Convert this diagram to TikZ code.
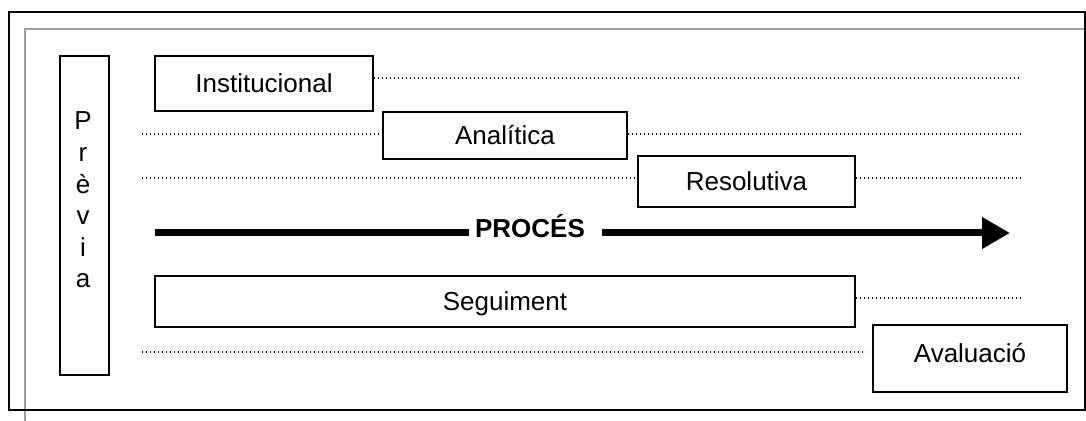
\documentclass[tikz,border=0pt]{standalone}
\usepackage{fontspec}
\setmainfont{Liberation Sans}
\usetikzlibrary{arrows.meta}
\begin{document}
\begin{tikzpicture}[x=0.5pt,y=-0.5pt,
  txt/.style={font=\fontsize{13}{15}\selectfont},
  box/.style={draw, line width=0.9pt, inner sep=0pt, txt, text height=9.3pt, text depth=0pt},
  guide/.style={line width=0.7pt, dash pattern=on 0.7pt off 1.3pt},
  procline/.style={line width=3.5pt},
  frame/.style={line width=1pt},
  inner frame/.style={line width=1pt, draw=black!38}]
\useasboundingbox (0,0) rectangle (1086,421);

% page frames
\draw[inner frame] (25,421) -- (25,29) -- (1085,29);
\draw[frame] (9,12) rectangle (1085,410);

% stage boxes
\node[box, minimum width=24.5pt, minimum height=159.5pt] (previa) at (84.5,215.5) {};
\foreach \ch [count=\i from 0] in {P,r,è,v,i,a}
  \node[txt, inner sep=0pt, anchor=base] (previa-\i) at (83,130+31.6*\i) {\ch};

\node[box, minimum width=109pt,   minimum height=27.5pt] (inst)  at (264,83.5)   {Institucional};
\node[box, minimum width=122pt,   minimum height=23.5pt] (anal)  at (505,135.5)  {Analítica};
\node[box, minimum width=108.5pt, minimum height=25.5pt] (resol) at (746.5,181.5) {Resolutiva};
\node[box, minimum width=350pt,   minimum height=25.5pt] (seg)   at (505,301.5)  {Seguiment};
\node[box, minimum width=97pt,    minimum height=33.5pt, text depth=5pt] (aval) at (970,358.5) {Avaluació};

% dotted guide lines
\coordinate (r1) at (1021,78);
\coordinate (l2) at (142,134);  \coordinate (r2) at (1021,134);
\coordinate (l3) at (142,178);  \coordinate (r3) at (1021,178);
\coordinate (r4) at (1021,298);
\coordinate (l5) at (142,352);  \coordinate (e5) at (866,352);

\draw[guide] (inst.east |- r1) -- (r1);
\draw[guide] (l2) -- (anal.west |- l2);
\draw[guide] (anal.east |- r2) -- (r2);
\draw[guide] (l3) -- (resol.west |- l3);
\draw[guide] (resol.east |- r3) -- (r3);
\draw[guide] (seg.east |- r4) -- (r4);
\draw[guide] (l5) -- (e5);

% process arrow
\node[txt, font=\fontsize{13}{15}\selectfont\bfseries, inner sep=0pt, anchor=base] (proc) at (530,238) {PROCÉS};
\coordinate (a0) at (155,233);
\coordinate (a1) at (1010,233);
\draw[procline] (a0) -- ([xshift=-3pt]proc.west |- a0);
\draw[procline, -{Triangle[length=14pt, width=15pt]}] ([xshift=8.5pt]proc.east |- a1) -- (a1);
\end{tikzpicture}
\end{document}
